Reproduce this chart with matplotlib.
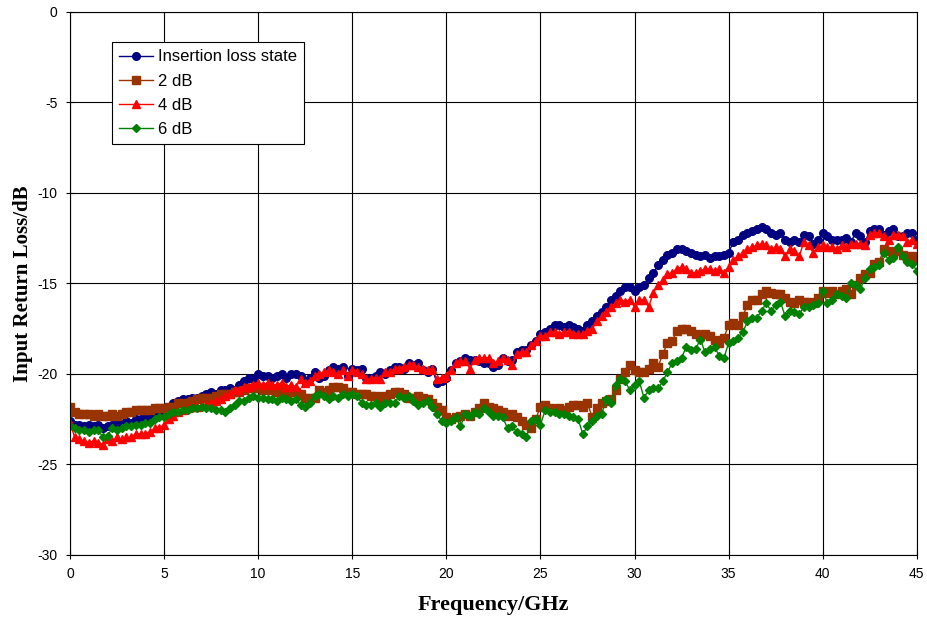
import numpy as np
import matplotlib.pyplot as plt

plt.rcParams['axes.unicode_minus'] = False

# frequency grid, 0.25 GHz steps
freq = np.arange(0, 45.001, 0.25)

insertion = [
    -22.6, -22.8, -22.8, -22.9, -22.8, -22.9, -22.8, -23.0, -22.9, -22.8, -22.7, -22.8, -22.6, -22.7, -22.5, -22.5, -22.4, -22.3, -22.3, -22.2,
    -22.0, -21.8, -21.6, -21.5, -21.4, -21.4, -21.3, -21.3, -21.2, -21.1, -21.0, -21.1, -20.9, -20.9, -20.8, -20.9, -20.6, -20.4, -20.2, -20.3,
    -20.0, -20.1, -20.1, -20.2, -20.1, -20.0, -20.2, -20.0, -20.0, -20.1, -20.4, -20.2, -19.9, -20.2, -20.1, -19.8, -19.6, -19.7, -19.6, -20.1,
    -19.7, -19.8, -19.7, -20.2, -20.2, -20.1, -19.9, -20.0, -19.8, -19.6, -19.6, -19.7, -19.4, -19.5, -19.4, -19.8, -19.9, -19.7, -20.5, -20.4,
    -20.2, -19.8, -19.4, -19.3, -19.1, -19.2, -19.2, -19.3, -19.4, -19.4, -19.6, -19.5, -19.1, -19.3, -19.2, -18.8, -18.7, -18.7, -18.4, -18.2,
    -17.8, -17.7, -17.5, -17.3, -17.3, -17.4, -17.3, -17.4, -17.5, -17.6, -17.3, -17.1, -16.8, -16.6, -16.3, -15.9, -15.7, -15.4, -15.2, -15.2,
    -15.4, -15.2, -15.1, -14.7, -14.4, -14.0, -13.7, -13.4, -13.3, -13.1, -13.1, -13.2, -13.3, -13.4, -13.5, -13.4, -13.6, -13.5, -13.5, -13.4,
    -13.3, -12.7, -12.6, -12.3, -12.2, -12.1, -12.0, -11.9, -12.0, -12.2, -12.3, -12.2, -12.6, -12.7, -12.6, -12.7, -12.3, -12.4, -12.8, -12.6,
    -12.2, -12.4, -12.6, -12.6, -12.6, -12.5, -12.7, -12.2, -12.4, -12.7, -12.1, -12.0, -12.0, -12.3, -12.1, -12.0, -12.4, -12.4, -12.2, -12.2,
    -12.6,
]

db2 = [
    -21.8, -22.1, -22.2, -22.2, -22.2, -22.3, -22.2, -22.3, -22.3, -22.2, -22.3, -22.2, -22.1, -22.1, -22.0, -22.0, -22.0, -22.0, -21.9, -21.9,
    -21.9, -21.8, -21.8, -21.6, -21.6, -21.6, -21.5, -21.4, -21.3, -21.3, -21.3, -21.2, -21.1, -21.1, -21.1, -21.0, -21.0, -20.9, -20.8, -20.8,
    -20.8, -20.9, -20.8, -20.9, -21.0, -21.0, -21.1, -21.0, -21.0, -21.1, -21.3, -21.3, -21.3, -20.9, -21.0, -20.9, -20.7, -20.7, -20.8, -21.0,
    -21.0, -21.1, -21.1, -21.1, -21.2, -21.2, -21.3, -21.2, -21.1, -21.0, -21.0, -21.1, -21.3, -21.3, -21.2, -21.3, -21.4, -21.6, -21.8, -22.0,
    -22.4, -22.5, -22.4, -22.3, -22.2, -22.3, -22.1, -21.9, -21.6, -21.8, -21.9, -22.0, -22.1, -22.3, -22.2, -22.4, -22.6, -22.8, -23.0, -22.5,
    -21.8, -21.7, -21.9, -22.0, -21.9, -22.0, -21.8, -21.7, -21.7, -21.8, -21.6, -22.4, -21.9, -21.6, -21.5, -21.4, -20.9, -20.3, -19.9, -19.5,
    -19.8, -19.9, -19.9, -19.7, -19.4, -19.6, -18.9, -18.3, -18.2, -17.6, -17.5, -17.5, -17.6, -17.8, -17.9, -17.8, -17.9, -18.1, -18.3, -18.0,
    -17.3, -17.2, -17.3, -16.8, -16.2, -15.9, -15.9, -15.6, -15.4, -15.5, -15.6, -15.6, -15.8, -16.0, -16.1, -15.9, -16.0, -16.0, -16.1, -15.8,
    -15.4, -15.5, -15.4, -15.6, -15.4, -15.3, -15.6, -15.1, -14.7, -14.5, -14.4, -13.9, -13.8, -13.1, -13.2, -13.3, -13.2, -13.4, -13.6, -13.5,
    -13.7,
]

db4 = [
    -22.7, -23.5, -23.6, -23.7, -23.8, -23.7, -23.8, -23.9, -23.6, -23.7, -23.5, -23.6, -23.5, -23.5, -23.3, -23.3, -23.3, -23.2, -23.0, -23.0,
    -22.8, -22.5, -22.3, -22.1, -22.0, -21.9, -21.8, -21.8, -21.7, -21.7, -21.6, -21.5, -21.4, -21.2, -21.1, -20.9, -20.9, -20.7, -20.7, -20.6,
    -20.5, -20.6, -20.5, -20.6, -20.6, -20.5, -20.7, -20.6, -20.7, -20.3, -20.5, -20.4, -20.1, -20.0, -19.9, -19.8, -19.9, -20.0, -19.8, -20.1,
    -19.8, -19.9, -20.0, -20.3, -20.3, -20.2, -20.3, -19.9, -19.9, -19.7, -19.7, -19.6, -19.5, -19.5, -19.6, -19.7, -19.8, -19.7, -20.3, -20.2,
    -20.1, -19.8, -19.4, -19.3, -19.3, -19.7, -19.2, -19.1, -19.1, -19.1, -19.4, -19.3, -19.1, -19.2, -19.5, -18.9, -18.8, -18.8, -18.4, -18.2,
    -17.9, -17.9, -17.7, -17.7, -17.8, -17.7, -17.7, -17.8, -17.8, -17.8, -17.6, -17.5, -17.1, -16.8, -16.6, -16.3, -16.1, -15.9, -16.0, -15.9,
    -16.3, -15.9, -15.9, -16.3, -15.5, -15.1, -14.8, -14.5, -14.4, -14.2, -14.1, -14.2, -14.4, -14.4, -14.3, -14.2, -14.2, -14.3, -14.2, -14.4,
    -14.1, -13.7, -13.5, -13.3, -13.1, -13.0, -12.9, -12.8, -12.9, -13.1, -13.0, -13.1, -13.5, -13.1, -13.2, -13.5, -12.7, -12.9, -13.3, -13.0,
    -12.9, -13.0, -13.0, -13.1, -12.9, -13.0, -12.8, -12.8, -12.8, -12.9, -12.3, -12.2, -12.2, -12.4, -12.6, -12.3, -12.3, -12.4, -12.7, -12.6,
    -12.8,
]

db6 = [
    -22.9, -23.0, -23.1, -23.1, -23.2, -23.1, -23.1, -23.5, -23.4, -23.0, -23.1, -23.0, -22.9, -22.9, -22.8, -22.8, -22.7, -22.7, -22.5, -22.4,
    -22.4, -22.2, -22.1, -22.1, -22.0, -22.0, -21.9, -21.9, -21.8, -21.9, -21.9, -22.0, -22.0, -22.1, -21.9, -21.7, -21.5, -21.5, -21.3, -21.2,
    -21.3, -21.3, -21.4, -21.4, -21.5, -21.3, -21.4, -21.5, -21.4, -21.7, -21.8, -21.6, -21.2, -21.1, -21.2, -21.4, -21.2, -21.3, -21.1, -21.2,
    -21.1, -21.2, -21.6, -21.7, -21.7, -21.6, -21.8, -21.6, -21.6, -21.6, -21.2, -21.3, -21.2, -21.5, -21.7, -21.6, -21.5, -21.8, -22.2, -22.6,
    -22.7, -22.6, -22.4, -22.9, -22.2, -22.3, -22.1, -22.2, -21.9, -22.1, -22.3, -22.3, -22.4, -23.0, -22.9, -23.2, -23.3, -23.5, -22.6, -22.5,
    -22.8, -22.0, -22.1, -22.1, -22.2, -22.2, -22.3, -22.4, -22.5, -23.3, -22.9, -22.6, -22.3, -22.2, -21.4, -21.6, -20.6, -20.3, -20.4, -20.9,
    -20.6, -20.4, -21.3, -20.9, -20.8, -20.8, -20.4, -19.9, -19.4, -19.3, -19.1, -18.5, -18.7, -18.6, -18.1, -18.8, -18.6, -18.5, -19.0, -19.1,
    -18.3, -18.2, -18.0, -17.7, -17.1, -16.9, -16.9, -16.5, -16.1, -16.5, -16.2, -16.0, -16.8, -16.5, -16.6, -16.7, -16.3, -16.3, -16.2, -16.1,
    -15.4, -16.1, -15.9, -15.6, -15.7, -15.8, -15.0, -15.1, -15.3, -14.7, -14.2, -14.1, -14.0, -13.3, -13.7, -13.6, -13.0, -13.5, -13.8, -13.9,
    -14.3,
]

fig = plt.figure(figsize=(9.27, 6.21), dpi=100)
ax = fig.add_axes([0.0755, 0.1063, 0.9135, 0.8744])

ax.plot(freq, insertion, color='#000080', marker='o', markersize=5.5, linewidth=1, label='Insertion loss state')
ax.plot(freq, db2, color='#993300', marker='s', markersize=5.5, linewidth=1, label='2 dB')
ax.plot(freq, db4, color='#FF0000', marker='^', markersize=6, linewidth=1, label='4 dB')
ax.plot(freq, db6, color='#008000', marker='D', markersize=4.5, linewidth=1, label='6 dB')

ax.set_xlim(0, 45)
ax.set_ylim(-30, 0)
ax.set_xticks(range(0, 46, 5))
ax.set_yticks(range(-30, 1, 5))
ax.grid(True, color='black', linewidth=0.8)
ax.tick_params(direction='inout', length=6, pad=6, labelsize=10, colors='black')
for lab in ax.get_xticklabels() + ax.get_yticklabels():
    lab.set_family('Liberation Sans')
for s in ax.spines.values():
    s.set_color('black')
    s.set_linewidth(0.8)

ax.set_xlabel('Frequency/GHz', family='Liberation Serif', fontweight='bold', fontsize=16, labelpad=10)
ax.set_ylabel('Input Return Loss/dB', family='Liberation Serif', fontweight='bold', fontsize=15, labelpad=3)

leg = ax.legend(loc='upper left', bbox_to_anchor=(0.0496, 0.945), fancybox=False,
                edgecolor='black', framealpha=1, prop={'family': 'Liberation Sans', 'size': 12},
                handlelength=2.0, borderpad=0.45, labelspacing=0.55, handletextpad=0.3,
                borderaxespad=0)
leg.get_frame().set_linewidth(0.8)

plt.savefig('out.png', dpi=100)
